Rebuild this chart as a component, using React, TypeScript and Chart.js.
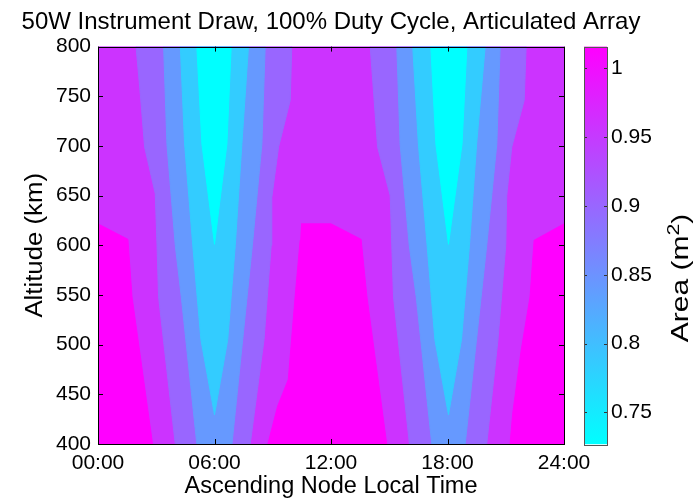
import React, { useEffect, useRef } from "react";
import { Chart, registerables } from "chart.js";

Chart.register(...registerables);

const FONT = '"Liberation Sans", Arial, Helvetica, sans-serif';

const TITLE = "50W Instrument Draw, 100% Duty Cycle, Articulated Array";
const X_LABEL = "Ascending Node Local Time";
const Y_LABEL = "Altitude (km)";
const CB_LABEL_MAIN = "Area (m";
const CB_LABEL_SUP = "2";
const CB_LABEL_END = ")";

const X_TICKS = [0, 6, 12, 18, 24];
const X_TICK_LABELS = ["00:00", "06:00", "12:00", "18:00", "24:00"];
const Y_TICKS = [400, 450, 500, 550, 600, 650, 700, 750, 800];
const CB_TICKS = [0.75, 0.8, 0.85, 0.9, 0.95, 1];
const CB_MIN = 0.7268;
const CB_MAX = 1.0159;

// band colours, from highest area (magenta) to lowest (cyan)
const BAND_COLORS = ["#FF00FF", "#CC33FF", "#9966FF", "#6699FF", "#33CCFF", "#00FFFF"];

type Pt = [number, number];

// whole domain (local time in hours, altitude in km)
const DOMAIN: Pt[] = [[0, 400], [24, 400], [24, 800], [0, 800]];

// highest band (magenta) regions
const MAG_LEFT: Pt[] = [[0, 621.6], [1.54, 606], [1.75, 548.5], [2.81, 400], [0, 400]];
const MAG_CENTER: Pt[] = [
  [10.46, 621.6], [12.0, 621.6], [13.55, 606], [13.85, 548.5], [14.87, 400],
  [8.75, 400], [9.25, 438], [9.8, 465], [10.15, 548], [10.41, 605],
];
const MAG_RIGHT: Pt[] = [
  [24, 621.6], [22.46, 605], [22.25, 548], [21.8, 495], [21.36, 431], [21.22, 400], [24, 400],
];

// contour boundaries around the 06:00 trough (top -> bottom)
const T1_B2_LEFT: Pt[] = [[1.96, 800], [2.18, 752], [2.4, 699], [2.95, 652], [3.04, 600], [3.12, 548], [3.98, 400]];
const T1_B2_RIGHT: Pt[] = [[9.98, 800], [9.9, 746], [9.3, 699], [8.95, 648], [8.92, 600], [8.55, 505], [7.84, 400]];
const T1_B3_LEFT: Pt[] = [[3.38, 800], [3.55, 702], [3.98, 600], [4.29, 548], [5.09, 400]];
const T1_B3_RIGHT: Pt[] = [[8.61, 800], [8.44, 702], [7.95, 600], [6.9, 400]];
const T1_B4_LEFT: Pt[] = [[4.24, 800], [4.46, 702], [4.88, 600], [5.3, 505], [6.0, 429.4]];
const T1_B4_RIGHT: Pt[] = [[7.75, 800], [7.41, 702], [7.07, 600], [6.68, 505], [6.0, 429.4]];
const T1_B5_LEFT: Pt[] = [[5.09, 800], [5.35, 702], [6.0, 601]];
const T1_B5_RIGHT: Pt[] = [[6.86, 800], [6.64, 702], [6.0, 601]];

// contour boundaries around the 18:00 trough (top -> bottom)
const T2_B2_LEFT: Pt[] = [[14.02, 800], [14.2, 752], [14.4, 699], [15.05, 650], [15.13, 600], [15.22, 548], [16.04, 400]];
const T2_B2_RIGHT: Pt[] = [[22.05, 800], [21.95, 746], [21.31, 699], [21.05, 650], [21.0, 600], [20.6, 505], [20.02, 400]];
const T2_B3_LEFT: Pt[] = [[15.39, 800], [15.56, 702], [16.03, 600], [16.39, 548], [17.19, 400]];
const T2_B3_RIGHT: Pt[] = [[20.71, 800], [20.54, 702], [20.02, 600], [18.91, 400]];
const T2_B4_LEFT: Pt[] = [[16.21, 800], [16.5, 702], [16.95, 600], [17.35, 505], [18.05, 429.4]];
const T2_B4_RIGHT: Pt[] = [[19.94, 800], [19.5, 702], [19.13, 600], [18.72, 505], [18.05, 429.4]];
const T2_B5_LEFT: Pt[] = [[17.14, 800], [17.4, 702], [18.05, 601]];
const T2_B5_RIGHT: Pt[] = [[19.0, 800], [18.75, 702], [18.05, 601]];

function band(left: Pt[], right: Pt[]): Pt[] {
  return [...left, ...[...right].reverse()];
}

function polyDataset(pts: Pt[], color: string, order: number) {
  return {
    type: "line" as const,
    data: pts.map(([x, y]) => ({ x, y })),
    fill: "shape",
    backgroundColor: color,
    borderColor: color,
    borderWidth: 1,
    pointRadius: 0,
    pointHoverRadius: 0,
    tension: 0,
    order,
  };
}

const boxPlugin = {
  id: "boxTicks",
  afterDatasetsDraw(chart: any) {
    const { ctx, chartArea, scales } = chart;
    const { left, right, top, bottom } = chartArea;
    const L = 5;
    ctx.save();
    ctx.strokeStyle = "#000";
    ctx.lineWidth = 1;
    ctx.beginPath();
    X_TICKS.forEach((v) => {
      const px = Math.round(scales.x.getPixelForValue(v)) + 0.5;
      ctx.moveTo(px, bottom);
      ctx.lineTo(px, bottom - L);
      ctx.moveTo(px, top);
      ctx.lineTo(px, top + L);
    });
    Y_TICKS.forEach((v) => {
      const py = Math.round(scales.y.getPixelForValue(v)) + 0.5;
      ctx.moveTo(left, py);
      ctx.lineTo(left + L, py);
      ctx.moveTo(right, py);
      ctx.lineTo(right - L, py);
    });
    ctx.stroke();
    ctx.strokeRect(Math.round(left) + 0.5, Math.round(top) + 0.5, Math.round(right - left), Math.round(bottom - top));
    // title, centred over the plot
    ctx.fillStyle = "#000";
    ctx.font = `24px ${FONT}`;
    ctx.textAlign = "center";
    ctx.textBaseline = "alphabetic";
    ctx.fillText(TITLE, (left + right) / 2, 28.5);
    // y axis label, reading bottom to top
    ctx.save();
    ctx.translate(36, (top + bottom) / 2);
    ctx.rotate(-Math.PI / 2);
    ctx.scale(1.12, 1);
    ctx.font = `23px ${FONT}`;
    ctx.textAlign = "center";
    ctx.textBaseline = "middle";
    ctx.fillText(Y_LABEL, 0, 0);
    ctx.restore();
    ctx.restore();
  },
};

const cbPlugin = {
  id: "cbDecor",
  afterDatasetsDraw(chart: any) {
    const { ctx, chartArea, scales } = chart;
    const { left, right, top, bottom } = chartArea;
    const L = 3;
    ctx.save();
    ctx.strokeStyle = "#333";
    ctx.lineWidth = 1;
    ctx.beginPath();
    CB_TICKS.forEach((v) => {
      const py = Math.round(scales.y.getPixelForValue(v)) + 0.5;
      ctx.moveTo(left, py);
      ctx.lineTo(left + L, py);
      ctx.moveTo(right, py);
      ctx.lineTo(right - L, py);
    });
    ctx.stroke();
    ctx.strokeStyle = "#555";
    ctx.strokeRect(Math.round(left) + 0.5, Math.round(top) + 0.5, Math.round(right - left), Math.round(bottom - top));
    // colour bar label, reading bottom to top
    const cx = 110;
    const cy = 278;
    ctx.translate(cx, cy);
    ctx.rotate(-Math.PI / 2);
    ctx.fillStyle = "#000";
    ctx.textBaseline = "alphabetic";
    ctx.textAlign = "left";
    const big = `24px ${FONT}`;
    const small = `17px ${FONT}`;
    ctx.font = big;
    const w1 = ctx.measureText(CB_LABEL_MAIN).width;
    const w3 = ctx.measureText(CB_LABEL_END).width;
    ctx.font = small;
    const w2 = ctx.measureText(CB_LABEL_SUP).width;
    const total = w1 + w2 + w3;
    ctx.scale(1.25, 1);
    let x0 = -total / 2;
    const base = 8;
    ctx.font = big;
    ctx.fillText(CB_LABEL_MAIN, x0, base);
    x0 += w1;
    ctx.font = small;
    ctx.fillText(CB_LABEL_SUP, x0, base - 9);
    x0 += w2;
    ctx.font = big;
    ctx.fillText(CB_LABEL_END, x0, base);
    ctx.restore();
  },
};

export default function App() {
  const mainRef = useRef<HTMLCanvasElement | null>(null);
  const cbRef = useRef<HTMLCanvasElement | null>(null);

  useEffect(() => {
    if (!mainRef.current || !cbRef.current) return;

    const datasets: any[] = [
      polyDataset(DOMAIN, BAND_COLORS[1], 100),
      polyDataset(MAG_LEFT, BAND_COLORS[0], 90),
      polyDataset(MAG_CENTER, BAND_COLORS[0], 90),
      polyDataset(MAG_RIGHT, BAND_COLORS[0], 90),
      polyDataset(band(T1_B2_LEFT, T1_B2_RIGHT), BAND_COLORS[2], 80),
      polyDataset(band(T2_B2_LEFT, T2_B2_RIGHT), BAND_COLORS[2], 80),
      polyDataset(band(T1_B3_LEFT, T1_B3_RIGHT), BAND_COLORS[3], 70),
      polyDataset(band(T2_B3_LEFT, T2_B3_RIGHT), BAND_COLORS[3], 70),
      polyDataset(band(T1_B4_LEFT, T1_B4_RIGHT), BAND_COLORS[4], 60),
      polyDataset(band(T2_B4_LEFT, T2_B4_RIGHT), BAND_COLORS[4], 60),
      polyDataset(band(T1_B5_LEFT, T1_B5_RIGHT), BAND_COLORS[5], 50),
      polyDataset(band(T2_B5_LEFT, T2_B5_RIGHT), BAND_COLORS[5], 50),
    ];

    const main = new Chart(mainRef.current, {
      type: "line",
      data: { datasets },
      options: {
        responsive: false,
        animation: false,
        devicePixelRatio: 1,
        events: [],
        layout: { padding: { left: 0, right: 133, top: 46.6, bottom: 0 } },
        plugins: {
          legend: { display: false },
          tooltip: { enabled: false },
          title: { display: false },
        },
        scales: {
          x: {
            type: "linear",
            min: 0,
            max: 24,
            afterBuildTicks: (ax: any) => {
              ax.ticks = X_TICKS.map((v) => ({ value: v }));
            },
            afterFit: (s: any) => {
              s.height = 55;
            },
            ticks: {
              callback: (v: any) => X_TICK_LABELS[X_TICKS.indexOf(Number(v))] ?? "",
              font: { family: FONT, size: 21 },
              color: "#000",
              padding: 7,
              maxRotation: 0,
              autoSkip: false,
            },
            grid: { display: false, drawTicks: false },
            border: { display: false },
            title: {
              display: true,
              text: X_LABEL,
              color: "#000",
              font: { family: FONT, size: 23.5, lineHeight: 1 },
              padding: { top: 0, bottom: 1 },
            },
          },
          y: {
            type: "linear",
            min: 400,
            max: 800,
            afterBuildTicks: (ax: any) => {
              ax.ticks = Y_TICKS.map((v) => ({ value: v }));
            },
            afterFit: (s: any) => {
              s.width = 98;
            },
            ticks: {
              callback: (v: any) => String(v),
              font: { family: FONT, size: 21 },
              color: "#000",
              padding: 7,
            },
            grid: { display: false, drawTicks: false },
            border: { display: false },
            title: { display: false },
          },
        },
      } as any,
      plugins: [boxPlugin],
    });

    const cb = new Chart(cbRef.current, {
      type: "bar",
      data: {
        labels: ["area"],
        datasets: [
          {
            data: [[CB_MIN, CB_MAX]] as any,
            backgroundColor: (c: any) => {
              const { ctx, chartArea } = c.chart;
              if (!chartArea) return BAND_COLORS[5];
              const g = ctx.createLinearGradient(0, chartArea.bottom, 0, chartArea.top);
              g.addColorStop(0, "#00FFFF");
              g.addColorStop(1, "#FF00FF");
              return g;
            },
            borderWidth: 0,
            barPercentage: 1,
            categoryPercentage: 1,
          },
        ],
      },
      options: {
        responsive: false,
        animation: false,
        devicePixelRatio: 1,
        events: [],
        layout: { padding: { left: 14, right: 0, top: 46.6, bottom: 54.7 } },
        plugins: { legend: { display: false }, tooltip: { enabled: false }, title: { display: false } },
        scales: {
          x: { display: false },
          y: {
            position: "right",
            min: CB_MIN,
            max: CB_MAX,
            afterBuildTicks: (ax: any) => {
              ax.ticks = CB_TICKS.map((v) => ({ value: v }));
            },
            afterFit: (s: any) => {
              s.width = 90;
            },
            ticks: {
              callback: (v: any) => String(v),
              font: { family: FONT, size: 21 },
              color: "#000",
              padding: 4,
            },
            grid: { display: false, drawTicks: false },
            border: { display: false },
          },
        },
      } as any,
      plugins: [cbPlugin],
    });

    return () => {
      main.destroy();
      cb.destroy();
    };
  }, []);

  return (
    <div style={{ position: "fixed", left: 0, top: 0, width: 697, height: 499, background: "#fff" }}>
      <canvas
        ref={mainRef}
        width={697}
        height={499}
        style={{ position: "absolute", left: 0, top: 0, width: 697, height: 499 }}
      />
      <canvas
        ref={cbRef}
        width={127}
        height={499}
        style={{ position: "absolute", left: 570, top: 0, width: 127, height: 499 }}
      />
    </div>
  );
}
